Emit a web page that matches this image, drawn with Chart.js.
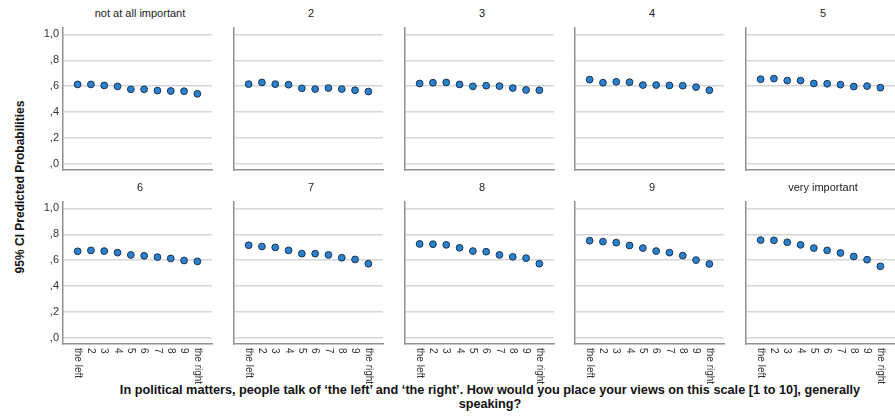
<!DOCTYPE html>
<html>
<head>
<meta charset="utf-8">
<script src="https://cdn.jsdelivr.net/npm/chart.js@4.4.1/dist/chart.umd.min.js"></script>
<style>
  body { margin: 0; width: 895px; height: 419px; overflow: hidden; background: #fff; position: relative;
         font-family: Arial, "Liberation Sans", sans-serif; }
  canvas { position: absolute; }
  .ptitle { position: absolute; width: 154px; text-align: center; font-size: 11px; line-height: 13px; color: #222; }
  #ytitle { position: absolute; left: 20px; top: 187px; width: 260px; margin-left: -130px; margin-top: -8px;
            text-align: center; font-size: 12px; line-height: 16px; font-weight: bold; color: #111;
            transform: rotate(-90deg); white-space: nowrap; }
  #xtitle { position: absolute; left: 70px; width: 840px; top: 383px; text-align: center;
            font-size: 12.7px; line-height: 14px; font-weight: bold; color: #111; }
</style>
</head>
<body>
<div id="ytitle">95% CI Predicted Probabilities</div>
<div id="xtitle">In political matters, people talk of ‘the left’ and ‘the right’. How would you place your views on this scale [1 to 10], generally<br>speaking?</div>
<script>
// left-right self placement (x categories)
const scalePoints = ['the left', '2', '3', '4', '5', '6', '7', '8', '9', 'the right'];
// importance level, one panel each
const importance = ['not at all important', '2', '3', '4', '5', '6', '7', '8', '9', 'very important'];
const yTickValues = [0, 0.2, 0.4, 0.6, 0.8, 1.0];
const yTickLabels = [',0', ',2', ',4', ',6', ',8', '1,0'];

// predicted probabilities per panel
const notImportant  = [0.613, 0.613, 0.605, 0.598, 0.575, 0.575, 0.565, 0.562, 0.560, 0.540];
const imp2          = [0.615, 0.628, 0.615, 0.611, 0.583, 0.577, 0.585, 0.577, 0.568, 0.558];
const imp3          = [0.620, 0.626, 0.628, 0.613, 0.598, 0.603, 0.600, 0.585, 0.570, 0.568];
const imp4          = [0.650, 0.626, 0.633, 0.630, 0.608, 0.608, 0.605, 0.603, 0.592, 0.568];
const imp5          = [0.653, 0.658, 0.643, 0.643, 0.620, 0.618, 0.611, 0.596, 0.600, 0.588];
const imp6          = [0.668, 0.675, 0.670, 0.658, 0.640, 0.633, 0.623, 0.613, 0.597, 0.590];
const imp7          = [0.715, 0.705, 0.698, 0.675, 0.650, 0.650, 0.640, 0.618, 0.605, 0.572];
const imp8          = [0.725, 0.723, 0.718, 0.695, 0.670, 0.665, 0.640, 0.625, 0.615, 0.572];
const imp9          = [0.750, 0.743, 0.735, 0.713, 0.693, 0.670, 0.658, 0.635, 0.600, 0.570];
const veryImportant = [0.755, 0.753, 0.738, 0.718, 0.693, 0.675, 0.655, 0.628, 0.603, 0.552];
const series = [notImportant, imp2, imp3, imp4, imp5, imp6, imp7, imp8, imp9, veryImportant];

// panel grid geometry
const colLeft = [63, 234, 405, 575, 746];
const rowTop = [23, 197];
const AREA_W = 154, AREA_H = 147, GUTTER = 40, BELOW = 45;
const FONT = 'Arial, "Liberation Sans", sans-serif';

// y labels on the first column, rotated category labels on the bottom row
const tickText = {
  id: 'tickText',
  afterDraw(chart, args, opts) {
    const { ctx, chartArea, scales: { x, y } } = chart;
    ctx.save();
    ctx.fillStyle = '#333';
    if (opts.yLabels) {
      ctx.font = '11px ' + FONT;
      ctx.textAlign = 'right';
      ctx.textBaseline = 'middle';
      yTickValues.forEach((v, i) => ctx.fillText(yTickLabels[i], chartArea.left - 4, y.getPixelForValue(v)));
    }
    if (opts.xLabels) {
      ctx.font = '10px ' + FONT;
      scalePoints.forEach((lab, i) => {
        ctx.save();
        ctx.translate(x.getPixelForValue(i), chartArea.bottom + 4);
        ctx.rotate(Math.PI / 2);
        ctx.textAlign = 'left';
        ctx.textBaseline = 'middle';
        ctx.fillText(lab, 0, 0);
        ctx.restore();
      });
    }
    ctx.restore();
  }
};

series.forEach((vals, k) => {
  const row = Math.floor(k / 5), col = k % 5;

  const t = document.createElement('div');
  t.className = 'ptitle';
  t.textContent = importance[k];
  t.style.left = colLeft[col] + 'px';
  t.style.top = (rowTop[row] - 16) + 'px';
  document.body.appendChild(t);

  const cv = document.createElement('canvas');
  cv.width = AREA_W + GUTTER;
  cv.height = AREA_H + BELOW;
  cv.style.left = (colLeft[col] - GUTTER) + 'px';
  cv.style.top = rowTop[row] + 'px';
  document.body.appendChild(cv);

  new Chart(cv, {
    type: 'scatter',
    data: {
      datasets: [{
        data: vals.map((v, i) => ({ x: i, y: v })),
        backgroundColor: '#2a82cf',
        borderColor: '#1b3350',
        borderWidth: 1,
        pointRadius: 3.4
      }]
    },
    options: {
      responsive: false,
      animation: false,
      devicePixelRatio: 1,
      layout: { padding: 0 },
      plugins: {
        legend: { display: false },
        tooltip: { enabled: false },
        tickText: { yLabels: col === 0, xLabels: row === 1 }
      },
      scales: {
        x: {
          type: 'linear', min: -1.1, max: 10.1,
          ticks: { display: false },
          grid: { display: false },
          border: { display: true, color: '#909090', width: 1.5 },
          afterFit: s => { s.height = BELOW; }
        },
        y: {
          min: -0.05, max: 1.05,
          ticks: { display: false },
          afterBuildTicks: s => { s.ticks = yTickValues.map(v => ({ value: v })); },
          grid: { color: '#d6d6d6', lineWidth: 1.5, drawTicks: false },
          border: { display: true, color: '#909090', width: 1.5 },
          afterFit: s => { s.width = GUTTER; }
        }
      }
    },
    plugins: [tickText]
  });
});
</script>
</body>
</html>
